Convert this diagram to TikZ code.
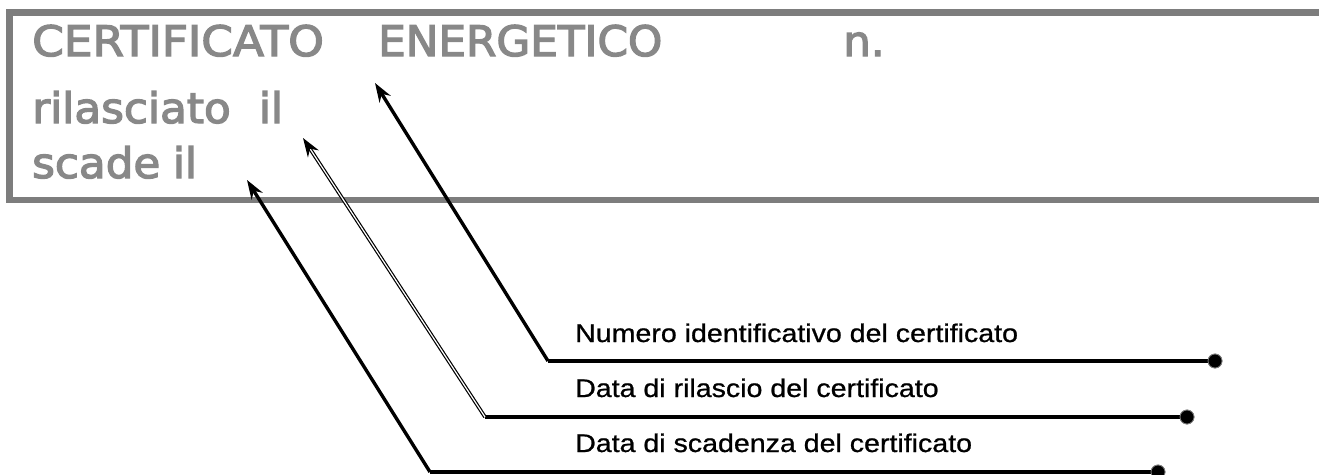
\documentclass[tikz,border=0pt]{standalone}
\usepackage{fontspec}
\usetikzlibrary{arrows.meta}
\newfontfamily\titlefont[FakeBold=3]{DejaVu Sans}
\newfontfamily\labfont[FakeBold=0.8]{Liberation Sans}
\definecolor{boxgray}{RGB}{125,125,125}
\definecolor{txtgray}{RGB}{136,136,136}
\tikzset{
  title/.style={anchor=base west, inner sep=0pt, text=txtgray, font=\titlefont\fontsize{42}{42}\selectfont},
  lab/.style={anchor=base west, inner sep=0pt, font=\labfont\fontsize{25.5}{25.5}\selectfont},
  dotnode/.style={circle, fill=black, draw=gray, line width=0.8pt, minimum size=14pt, inner sep=0pt},
  leader/.style={line width=3.2pt, line join=miter},
  pointer/.style={-{Stealth[length=19pt,width=13pt]}, line width=3.4pt},
  dpointer/.style={-{Stealth[length=19pt,width=13pt]}, line width=1.2pt, double=white, double distance=1.2pt},
}
\begin{document}
\begin{tikzpicture}[x=1pt,y=-1pt]
\useasboundingbox (0,0) rectangle (1319,474);
\clip (0,0) rectangle (1319,474);
% frame
\draw[boxgray, line width=6.5pt] (1340,12.5) -- (9.5,12.5) -- (9.5,200) -- (1340,200);
% title texts
\node[title] (cert) at (32,56) {\scalebox{1.08}[1]{CERTIFICATO}};
\node[title] (energ) at (378,56) {\scalebox{1.04}[1]{ENERGETICO}};
\node[title] (num) at (843,56) {\scalebox{1.04}[1]{n.}};
\node[title] (ril) at (32,123) {\scalebox{1.04}[1]{rilasciato\hspace{27pt}il}};
\node[title] (scad) at (32,178) {\scalebox{1.04}[1]{scade\hspace{12pt}il}};
% labels
\node[lab] (l1) at (575,342) {\scalebox{1.12}[1]{Numero identificativo del certificato}};
\node[lab] (l2) at (575,397) {\scalebox{1.12}[1]{Data di rilascio del certificato}};
\node[lab] (l3) at (575,452) {\scalebox{1.12}[1]{Data di scadenza del certificato}};
% leader geometry
\coordinate (t1) at (375,83);
\coordinate (c1) at (548,361);
\coordinate (t2) at (303,138);
\coordinate (c2) at (485,417);
\coordinate (t3) at (247,180);
\coordinate (c3) at (430,472);
\node[dotnode] (d1) at (1215,361) {};
\node[dotnode] (d2) at (1187,417) {};
\node[dotnode] (d3) at (1158,472) {};
% connectors
\draw[leader] (d1.center) -- (c1);
\draw[pointer] (c1) -- (t1);
\draw[leader] (d2.center) -- (c2);
\draw[dpointer] (c2) -- (t2);
\draw[leader] (d3.center) -- (c3);
\draw[pointer] (c3) -- (t3);
\node[dotnode] at (d1) {};
\node[dotnode] at (d2) {};
\node[dotnode] at (d3) {};
\end{tikzpicture}
\end{document}
